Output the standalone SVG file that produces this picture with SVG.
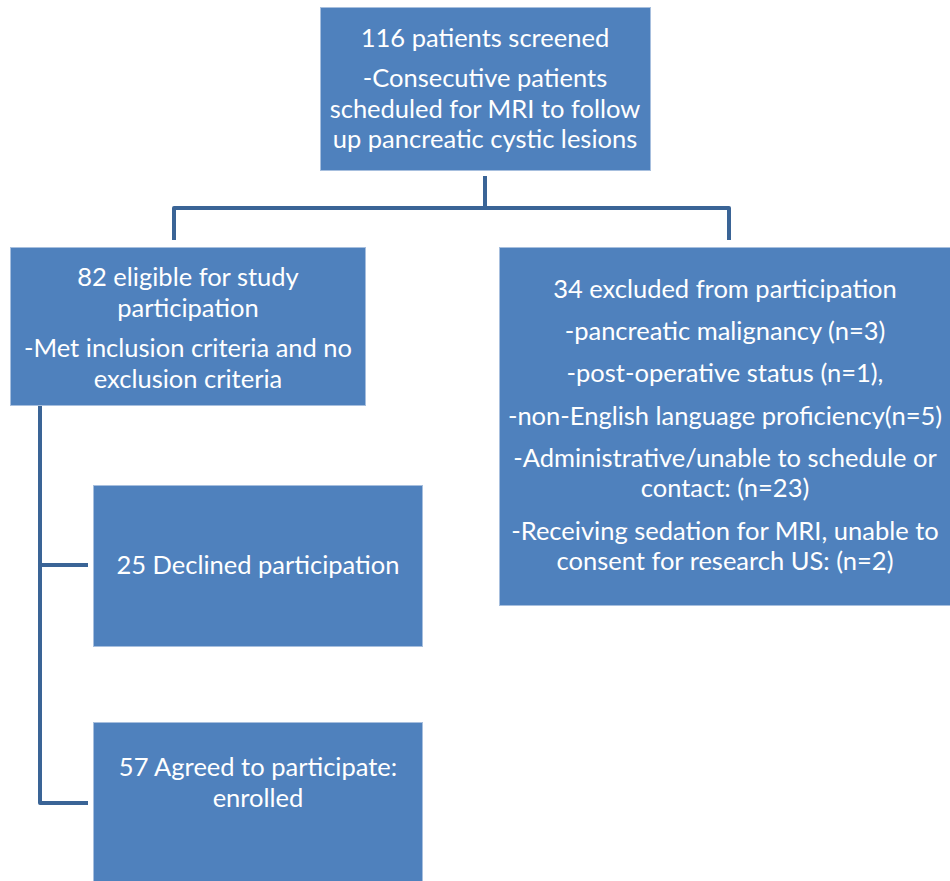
<svg xmlns="http://www.w3.org/2000/svg" width="950" height="881" viewBox="0 0 950 881">
<style>
.box{fill:#4F81BD;stroke:#A7BFDE;stroke-width:1}
.t{font-family:Lato,"Open Sans","Liberation Sans",sans-serif;font-size:25.5px;fill:#FFFFFF;text-anchor:middle}
.c{fill:none;stroke:#3A6496;stroke-width:4;stroke-linejoin:round;stroke-linecap:butt}
</style>
<rect width="950" height="881" fill="#FFFFFF"/>
<g id="connectors">
<path class="c" d="M485,176 V208"/>
<path class="c" d="M174,240 V208 H729 V240"/>
<path class="c" d="M40,406 V803 H88"/>
<path class="c" d="M40,565 H88"/>
</g>
<g id="screened">
<rect class="box" x="320.5" y="7.5" width="330" height="163"/>
<text class="t" x="485" y="47">116 patients screened</text>
<text class="t" x="485" y="87">-Consecutive patients</text>
<text class="t" x="485" y="118">scheduled for MRI to follow</text>
<text class="t" x="485" y="148">up pancreatic cystic lesions</text>
</g>
<g id="eligible">
<rect class="box" x="10.5" y="247.5" width="355" height="158"/>
<text class="t" x="188" y="286">82 eligible for study</text>
<text class="t" x="188" y="317">participation</text>
<text class="t" x="188" y="357">-Met inclusion criteria and no</text>
<text class="t" x="188" y="388">exclusion criteria</text>
</g>
<g id="excluded">
<rect class="box" x="499.5" y="247.5" width="451" height="358"/>
<text class="t" x="725" y="298">34 excluded from participation</text>
<text class="t" x="725" y="340">-pancreatic malignancy (n=3)</text>
<text class="t" x="725" y="382">-post-operative status (n=1),</text>
<text class="t" x="725" y="425">-non-English language proficiency(n=5)</text>
<text class="t" x="725" y="467">-Administrative/unable to schedule or</text>
<text class="t" x="725" y="497">contact: (n=23)</text>
<text class="t" x="725" y="540">-Receiving sedation for MRI, unable to</text>
<text class="t" x="725" y="570">consent for research US: (n=2)</text>
</g>
<g id="declined">
<rect class="box" x="93.5" y="485.5" width="329" height="161"/>
<text class="t" x="258" y="574">25 Declined participation</text>
</g>
<g id="enrolled">
<rect class="box" x="93.5" y="722.5" width="329" height="170"/>
<text class="t" x="258" y="776">57 Agreed to participate:</text>
<text class="t" x="258" y="807">enrolled</text>
</g>
</svg>
